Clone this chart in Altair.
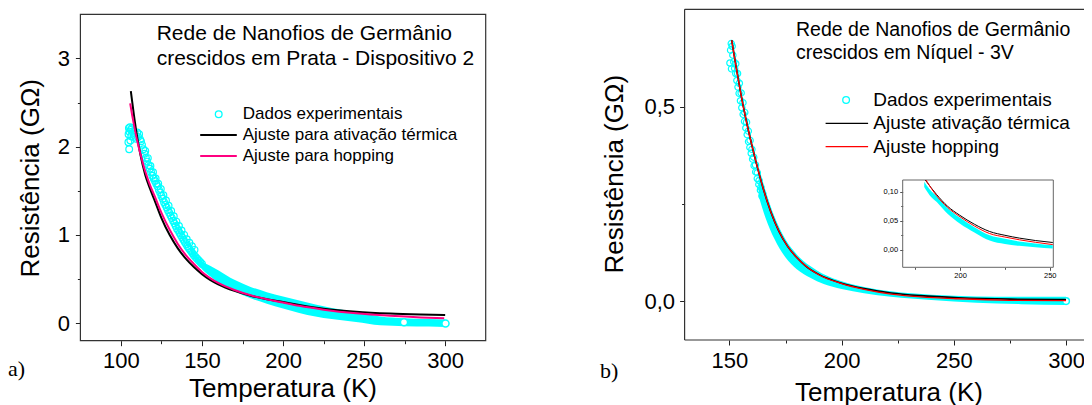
import altair as alt
import pandas as pd

# ---------------- panel a : Prata ----------------
A_EXP_T = [104.6, 104.7, 104.9, 105.1, 105.3, 105.6, 105.8, 106.1, 106.4, 106.8, 107.3, 107.9,
           108.6, 109.3, 110.0, 110.6, 111.2, 111.8, 112.4, 113.0, 113.8, 114.6, 115.4, 116.2,
           117.0, 117.8, 118.6, 119.4, 120.2, 121.0, 121.8, 122.6, 123.4, 124.2, 125.0, 125.8,
           126.6, 127.4, 128.2, 129.0, 129.8, 130.6, 131.4, 132.2, 133.0, 133.8, 134.6, 135.4,
           136.2, 137.0, 137.8, 138.6, 139.4, 140.2, 141.0, 141.8, 142.6, 143.4, 144.2, 145.0,
           146.0, 147.0, 148.0, 149.0, 150.0,
           115.0, 116.6, 118.2, 119.8, 121.4, 123.0, 124.6, 126.2, 127.8, 129.4, 131.0, 132.6,
           134.2, 135.8, 137.4, 139.0, 140.6, 142.2, 143.8, 145.4]
A_EXP_R = [2.05, 2.14, 2.21, 1.97, 2.17, 2.22, 2.07, 2.19, 2.12, 2.21, 2.17, 2.11,
           2.15, 2.09, 2.16, 2.11, 2.14, 2.08, 2.06, 2.02, 1.97, 1.92, 1.87, 1.83,
           1.79, 1.75, 1.71, 1.67, 1.64, 1.61, 1.58, 1.55, 1.51, 1.48, 1.44, 1.41,
           1.37, 1.34, 1.31, 1.28, 1.25, 1.22, 1.19, 1.16, 1.13, 1.10, 1.07, 1.05,
           1.02, 0.995, 0.97, 0.945, 0.92, 0.895, 0.87, 0.85, 0.83, 0.81, 0.79, 0.77,
           0.75, 0.73, 0.71, 0.69, 0.67,
           1.95, 1.87, 1.78, 1.71, 1.64, 1.58, 1.52, 1.45, 1.39, 1.33, 1.27, 1.21,
           1.15, 1.10, 1.05, 1.00, 0.95, 0.91, 0.87, 0.83]
A_BAND_T = [143, 147, 150, 155, 160, 170, 180, 190, 200, 210, 220, 230, 245, 260, 275, 290, 300]
A_BAND_HI = [0.86, 0.76, 0.70, 0.65, 0.60, 0.49, 0.41, 0.35, 0.30, 0.255, 0.21, 0.17, 0.125,
             0.075, 0.055, 0.045, 0.04]
A_BAND_LO = [0.78, 0.68, 0.61, 0.53, 0.46, 0.36, 0.28, 0.22, 0.165, 0.115, 0.075, 0.045, 0.012,
             -0.025, -0.035, -0.04, -0.045]
A_LAST_T = [274.6, 300.2]
A_LAST_R = [0.01, -0.005]
A_TERM_T = [106.1, 108, 110, 112, 115, 118, 121, 125, 130, 135, 140, 145, 150, 155, 160, 170,
            180, 190, 200, 210, 225, 245, 266, 285, 300]
A_TERM_R = [2.63, 2.36, 2.11, 1.91, 1.68, 1.52, 1.38, 1.19, 1.00, 0.85, 0.73, 0.635, 0.555,
            0.49, 0.44, 0.365, 0.31, 0.27, 0.238, 0.205, 0.163, 0.128, 0.107, 0.096, 0.09]
A_HOP_T = [105.7, 107, 108, 110, 112, 115, 118, 121, 125, 130, 135, 140, 145, 150, 155, 160,
           170, 180, 190, 200, 210, 225, 245, 266, 285, 299.4]
A_HOP_R = [2.49, 2.35, 2.25, 2.07, 1.92, 1.72, 1.56, 1.43, 1.25, 1.06, 0.90, 0.77, 0.67, 0.58,
           0.51, 0.455, 0.375, 0.315, 0.27, 0.232, 0.195, 0.152, 0.11, 0.082, 0.064, 0.055]

# ---------------- panel b : Niquel ----------------
B_EXP_T = [150.2, 150.5, 150.8, 151.2, 151.5, 150.9, 151.9, 152.3, 152.8, 153.3, 153.8, 154.3,
           154.9, 155.5, 156.1, 156.7, 157.3, 157.9, 158.5, 159.1, 159.7, 160.3, 161.0, 161.7,
           162.4, 163.1, 163.8, 164.5,
           152.8, 153.6, 154.4, 155.2, 156.0, 156.8, 157.6, 158.4, 159.2, 160.0, 160.8, 161.6,
           162.4, 163.2, 164.0, 164.8, 165.6, 166.4]
B_EXP_R = [0.612, 0.645, 0.662, 0.655, 0.632, 0.597, 0.615, 0.598, 0.585, 0.567, 0.55, 0.534,
           0.515, 0.497, 0.48, 0.462, 0.445, 0.428, 0.41, 0.395, 0.38, 0.365, 0.348, 0.332,
           0.315, 0.30, 0.285, 0.27,
           0.61, 0.585, 0.56, 0.535, 0.51, 0.485, 0.46, 0.437, 0.413, 0.39, 0.37, 0.35,
           0.33, 0.31, 0.293, 0.277, 0.26, 0.245]
B_BAND_T = [163, 166, 170, 175, 180, 186, 192, 200, 210, 222, 240, 260, 280, 300]
B_BAND_HI = [0.345, 0.285, 0.218, 0.158, 0.12, 0.09, 0.069, 0.051, 0.036, 0.025, 0.016, 0.012,
             0.011, 0.011]
B_BAND_LO = [0.27, 0.215, 0.16, 0.112, 0.082, 0.060, 0.044, 0.031, 0.020, 0.011, 0.003, -0.004,
             -0.008, -0.01]
B_LAST_T = [300]
B_LAST_R = [0.0]
B_TERM_T = [151.0, 152, 153, 154, 155, 156, 158, 160, 162.4, 165, 168.5, 172, 176, 180, 184, 190,
            200, 210, 222, 235, 252, 275, 300]
B_TERM_R = [0.671, 0.635, 0.60, 0.568, 0.535, 0.505, 0.45, 0.40, 0.345, 0.29, 0.228, 0.18, 0.14,
            0.112, 0.09, 0.068, 0.046, 0.032, 0.021, 0.014, 0.0085, 0.005, 0.004]
B_HOP_T = [151.0, 152, 153, 154, 155, 156, 158, 160, 162.4, 165, 168.5, 172, 176, 180, 184, 190,
           200, 210, 222, 235, 252, 275, 300]
B_HOP_R = [0.671, 0.635, 0.60, 0.568, 0.535, 0.505, 0.45, 0.40, 0.345, 0.29, 0.228, 0.18, 0.14,
           0.112, 0.09, 0.067, 0.045, 0.030, 0.018, 0.011, 0.006, 0.002, 0.001]

# ---------------- inset of panel b ----------------
IN_BAND_T = [180, 183, 187, 193, 200, 208, 216.5, 225, 233, 242, 251.7]
IN_BAND_HI = [0.117, 0.104, 0.092, 0.072, 0.055, 0.039, 0.025, 0.019, 0.0143, 0.011, 0.0081]
IN_BAND_LO = [0.108, 0.094, 0.082, 0.062, 0.045, 0.030, 0.016, 0.010, 0.0069, 0.0045, 0.0022]
IN_TERM_T = [180.6, 186.9, 193, 199.8, 208, 216.5, 225, 233.2, 242, 251.7]
IN_TERM_R = [0.12, 0.095, 0.075, 0.0595, 0.044, 0.0315, 0.025, 0.0201, 0.016, 0.0126]
IN_HOP_T = [181, 186.9, 193, 200, 208, 216.5, 225, 233.2, 242, 251.7]
IN_HOP_R = [0.12, 0.093, 0.073, 0.0567, 0.041, 0.028, 0.022, 0.0172, 0.013, 0.009]

# ---------------- ticks and texts ----------------
A_X_TICKS = [100, 125, 150, 175, 200, 225, 250, 275, 300]
A_Y_TICKS = [0, 0.5, 1, 1.5, 2, 2.5, 3]
B_X_TICKS = [150, 175, 200, 225, 250, 275, 300]
B_Y_TICKS = [0, 0.25, 0.5]
IN_X_TICKS = [175, 200, 225, 250]
IN_Y_TICKS = [0, 0.025, 0.05, 0.075, 0.1]

TITLE_A = ["Rede de Nanofios de Germânio", "crescidos em Prata - Dispositivo 2"]
TITLE_B = ["Rede de Nanofios de Germânio", "crescidos em Níquel - 3V"]
LEGEND_A = ["Dados experimentais", "Ajuste para ativação térmica", "Ajuste para hopping"]
LEGEND_B = ["Dados experimentais", "Ajuste ativação térmica", "Ajuste hopping"]
X_TITLE = "Temperatura (K)"
Y_TITLE = "Resistência (GΩ)"
PANEL_TAGS = ["a)", "b)"]

# ---------------- geometry / style ----------------
W, H = 1076, 397
SANS = "Liberation Sans"
SERIF = "Liberation Serif"
CYAN = "#00FFFF"
PINK = "#FF0080"
A_X0, A_X1, A_Y0, A_Y1 = 72.4, 477.7, 6.3, 332.7
B_X0, B_X1, B_Y0, B_Y1 = 676.6, 1102.9, 1.3, 332.0
I_X0, I_X1, I_Y0, I_Y1 = 894.7, 1045.3, 172.0, 259.3

a_xs = alt.Scale(domain=[75, 325], range=[A_X0, A_X1], nice=False, zero=False)
a_ys = alt.Scale(domain=[-0.2, 3.5], range=[A_Y1, A_Y0], nice=False, zero=False)
b_xs = alt.Scale(domain=[130, 320], range=[B_X0, B_X1], nice=False, zero=False)
b_ys = alt.Scale(domain=[-0.1, 0.75], range=[B_Y1, B_Y0], nice=False, zero=False)
i_xs = alt.Scale(domain=[168, 252], range=[I_X0, I_X1], nice=False, zero=False)
i_ys = alt.Scale(domain=[-0.03, 0.12], range=[I_Y1, I_Y0], nice=False, zero=False)

ONE = pd.DataFrame({"k": [0]})


def axis(orient, offset, values, label_expr, minor_test, size, major, minor, pad, color="#222"):
    return alt.Axis(orient=orient, offset=offset, values=values, labelExpr=label_expr,
                    tickSize={"condition": {"test": minor_test, "value": minor}, "value": major},
                    domain=False, grid=False, ticks=True, tickColor=color, tickWidth=1,
                    labelFont=SANS, labelFontSize=size, labelColor="black",
                    labelPadding=pad, labelOverlap=False, labelFlush=False, title=None)


ax_a_x = axis("bottom", -(H - A_Y1), A_X_TICKS, "datum.value % 50 === 0 ? datum.label : ''",
              "datum.value % 50 !== 0", 22, 5, 3, 5)
ax_a_y = axis("left", -A_X0, A_Y_TICKS, "datum.value % 1 === 0 ? format(datum.value, 'd') : ''",
              "datum.value % 1 !== 0", 22, 5, 3, 6)
ax_b_x = axis("bottom", -(H - B_Y1), B_X_TICKS, "datum.value % 50 === 0 ? datum.label : ''",
              "datum.value % 50 !== 0", 22, 5, 3, 5)
ax_b_y = axis("left", -B_X0, B_Y_TICKS,
              "datum.value === 0.25 ? '' : replace(format(datum.value, '.1f'), '.', ',')",
              "datum.value === 0.25", 22, 5, 3, 5)
ax_i_x = axis("bottom", -(H - I_Y1), IN_X_TICKS, "datum.value % 50 === 0 ? datum.label : ''",
              "datum.value % 50 !== 0", 7.5, 3, 2, 1, "#555")
ax_i_y = axis("left", -I_X0, IN_Y_TICKS,
              "(datum.value * 1000) % 50 < 1 ? replace(format(datum.value, '.2f'), '.', ',') : ''",
              "(datum.value * 1000) % 50 >= 1", 7.5, 3, 2, 2, "#555")


def frame(x0, x1, y0, y1, color, width):
    return alt.Chart(ONE).mark_rect(filled=False, stroke=color, strokeWidth=width).encode(
        x=alt.value(x0), x2=alt.value(x1), y=alt.value(y0), y2=alt.value(y1))


def hrule(x0, x1, y, color, sw):
    return alt.Chart(ONE).mark_rule(color=color, strokeWidth=sw).encode(
        x=alt.value(x0), x2=alt.value(x1), y=alt.value(y))


def vrule(x, y0, y1, color, sw):
    return alt.Chart(ONE).mark_rule(color=color, strokeWidth=sw).encode(
        x=alt.value(x), y=alt.value(y0), y2=alt.value(y1))


def band(T, hi, lo, xs, ys, xa, ya):
    df = pd.DataFrame({"T": T, "hi": hi, "lo": lo})
    return alt.Chart(df).mark_area(color=CYAN, opacity=1, interpolate="monotone").encode(
        x=alt.X("T:Q", scale=xs, axis=xa), y=alt.Y("hi:Q", scale=ys, axis=ya), y2="lo:Q")


def circles(T, R, xs, ys, size, sw, white=False):
    df = pd.DataFrame({"T": T, "R": R})
    if white:
        m = alt.Chart(df).mark_circle(fill="white", stroke=CYAN, strokeWidth=sw, size=size,
                                      opacity=1, fillOpacity=1)
    else:
        m = alt.Chart(df).mark_point(shape="circle", filled=False, stroke=CYAN, strokeWidth=sw,
                                     size=size, opacity=1)
    return m.encode(x=alt.X("T:Q", scale=xs, axis=None), y=alt.Y("R:Q", scale=ys, axis=None))


def curve(T, R, xs, ys, color, sw):
    df = pd.DataFrame({"T": T, "R": R})
    return alt.Chart(df).mark_line(color=color, strokeWidth=sw, interpolate="monotone").encode(
        x=alt.X("T:Q", scale=xs, axis=None), y=alt.Y("R:Q", scale=ys, axis=None))


def text(s, x, y, size, font=SANS, align="left", baseline="alphabetic", angle=0):
    props = dict(font=font, fontSize=size, align=align, baseline=baseline, color="black")
    if angle:
        props["angle"] = angle
    return alt.Chart(ONE).mark_text(**props).encode(
        x=alt.value(x), y=alt.value(y), text=alt.value(s))


def marker(x, y, size):
    return alt.Chart(ONE).mark_point(shape="circle", filled=False, stroke=CYAN, strokeWidth=1.3,
                                     size=size, opacity=1).encode(x=alt.value(x), y=alt.value(y))


layers = [
    frame(A_X0, A_X1, A_Y0, A_Y1, "#333", 1.2),
    hrule(B_X0, W, B_Y0, "#333", 1.2),
    hrule(B_X0, W, B_Y1, "#333", 1.2),
    vrule(B_X0, B_Y0, B_Y1, "#333", 1.2),
    # panel a
    band(A_BAND_T, A_BAND_HI, A_BAND_LO, a_xs, a_ys, ax_a_x, ax_a_y),
    circles(A_EXP_T, A_EXP_R, a_xs, a_ys, 45, 1.2),
    circles(A_LAST_T, A_LAST_R, a_xs, a_ys, 50, 1.5, white=True),
    curve(A_TERM_T, A_TERM_R, a_xs, a_ys, "black", 2),
    curve(A_HOP_T, A_HOP_R, a_xs, a_ys, PINK, 2),
    # panel b
    band(B_BAND_T, B_BAND_HI, B_BAND_LO, b_xs, b_ys, ax_b_x, ax_b_y),
    circles(B_EXP_T, B_EXP_R, b_xs, b_ys, 40, 1.2),
    circles(B_LAST_T, B_LAST_R, b_xs, b_ys, 45, 1.5, white=True),
    curve(B_TERM_T, B_TERM_R, b_xs, b_ys, "black", 1.6),
    curve(B_HOP_T, B_HOP_R, b_xs, b_ys, "#FF0000", 1.3),
    # inset
    frame(I_X0, I_X1, I_Y0, I_Y1, "#666", 1),
    band(IN_BAND_T, IN_BAND_HI, IN_BAND_LO, i_xs, i_ys, ax_i_x, ax_i_y),
    curve(IN_TERM_T, IN_TERM_R, i_xs, i_ys, "black", 1),
    curve(IN_HOP_T, IN_HOP_R, i_xs, i_ys, "#FF0000", 1),
    # texts panel a
    text(TITLE_A[0], 148.7, 32, 21),
    text(TITLE_A[1], 148.7, 57, 21),
    marker(210.7, 106.3, 45),
    hrule(192.2, 228.8, 127, "black", 2),
    hrule(192.2, 228.8, 148, PINK, 2),
    text(LEGEND_A[0], 234.7, 106.3, 17, baseline="middle"),
    text(LEGEND_A[1], 234.7, 127, 17, baseline="middle"),
    text(LEGEND_A[2], 234.7, 148, 17, baseline="middle"),
    text(X_TITLE, 275, 388.7, 26, align="center"),
    text(Y_TITLE, 22.5, 170.3, 26, align="center", baseline="middle", angle=270),
    text(PANEL_TAGS[0], 0, 368, 22, font=SERIF),
    # texts panel b
    text(TITLE_B[0], 788, 28, 19.5),
    text(TITLE_B[1], 788, 51.3, 19.5),
    marker(838.1, 92, 45),
    hrule(817.6, 860.1, 115.3, "black", 1.3),
    hrule(817.6, 860.1, 138.7, "#FF0000", 1.3),
    text(LEGEND_B[0], 865.3, 92, 19, baseline="middle"),
    text(LEGEND_B[1], 865.3, 115.3, 19, baseline="middle"),
    text(LEGEND_B[2], 865.3, 138.7, 19, baseline="middle"),
    text(X_TITLE, 881, 392.5, 26, align="center"),
    text(Y_TITLE, 606.5, 166.2, 26, align="center", baseline="middle", angle=270),
    text(PANEL_TAGS[1], 592, 370.3, 22, font=SERIF),
]

chart = alt.layer(*layers).resolve_scale(x="independent", y="independent").properties(
    width=W, height=H, padding=0, autosize=alt.AutoSizeParams(type="none"),
    background="white",
).configure_view(stroke=None)

chart.save("out.html", embed_options={"renderer": "svg", "actions": False})
